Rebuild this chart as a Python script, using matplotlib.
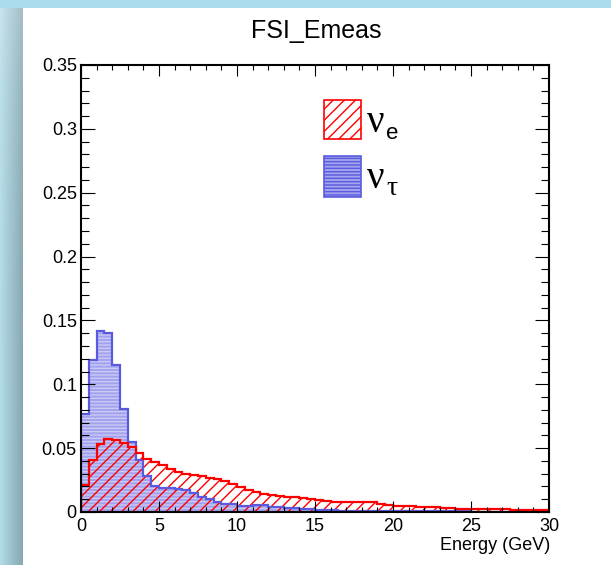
#!/usr/bin/env python

import numpy as np
import matplotlib.pyplot as plt
from matplotlib.patches import Rectangle
from matplotlib.ticker import MultipleLocator, FuncFormatter

plt.rcParams['font.family'] = ['Liberation Sans', 'DejaVu Sans']
plt.rcParams['hatch.linewidth'] = 1.0

# 0.5 GeV bins from 0 to 30 GeV
edges = np.linspace(0, 30, 61)

nu_e = [0.021, 0.041, 0.053, 0.057, 0.056, 0.054, 0.051, 0.046, 0.0415, 0.039,
        0.037, 0.034, 0.031, 0.030, 0.0287, 0.028, 0.027, 0.026, 0.024, 0.022,
        0.0195, 0.0175, 0.0157, 0.0143, 0.0135, 0.0122, 0.0117, 0.0117, 0.011, 0.0105,
        0.0092, 0.0090, 0.0080, 0.0077, 0.0077, 0.0078, 0.0080, 0.0079, 0.0062, 0.0058,
        0.0050, 0.0047, 0.0045, 0.0043, 0.0040, 0.0037, 0.0033, 0.0030, 0.0026, 0.0026,
        0.0025, 0.0025, 0.0024, 0.0024, 0.0020, 0.0018, 0.0017, 0.0016, 0.0015, 0.0015]

nu_tau = [0.077, 0.119, 0.142, 0.140, 0.115, 0.081, 0.055, 0.041, 0.028, 0.020,
          0.019, 0.019, 0.018, 0.017, 0.015, 0.012, 0.010, 0.008, 0.0065, 0.006,
          0.0045, 0.0048, 0.0057, 0.0057, 0.0042, 0.0040, 0.0033, 0.0033, 0.0022, 0.0020,
          0.0014, 0.0013, 0.0012, 0.0011, 0.0010, 0.0010, 0.0009, 0.0008, 0.0008, 0.0007,
          0.0006, 0.0006, 0.0006, 0.0005, 0.0005, 0.0005, 0.0004, 0.0004, 0.0004, 0.0004,
          0.0003, 0.0003, 0.0003, 0.0003, 0.0003, 0.0002, 0.0002, 0.0002, 0.0002, 0.0002]

red = '#ff0000'
blue_line = '#5a5ade'
blue_fill = '#a2a2ef'
blue_hatch = '#cacaf6'

fig = plt.figure(figsize=(6.11, 5.65), dpi=100)
fig.patch.set_facecolor('#aadcec')

# shaded left border of the canvas
bg = fig.add_axes([0, 0, 23/611, 1 - 8/565])
gx = np.linspace(0, 1, 23)[None, :, None]
gy = np.linspace(0, 1, 100)[:, None, None]
c_left = np.array([0.70, 0.86, 0.91])
c_right = np.array([0.53, 0.66, 0.70])
grad = c_left + (c_right - c_left) * gx
grad = grad + (1 - grad) * 0.25 * (1 - gy) ** 4
bg.imshow(np.clip(grad, 0, 1), aspect='auto', extent=[0, 1, 0, 1], origin='upper')
bg.axis('off')

fig.add_artist(Rectangle((23/611, 0), 1, 1 - 8/565, transform=fig.transFigure,
                         facecolor='white', edgecolor='none', zorder=0))

ax = fig.add_axes([81/611, 53/565, 468/611, 447/565])

ax.stairs(nu_tau, edges, fill=True, facecolor=blue_fill, edgecolor=blue_hatch,
          hatch='-----', linewidth=0)
ax.stairs(nu_e, edges, fill=True, facecolor='none', edgecolor=red,
          hatch='///', linewidth=0)
ax.stairs(nu_tau, edges, color=blue_line, linewidth=1.6)
ax.stairs(nu_e, edges, color=red, linewidth=1.6)

ax.set_xlim(0, 30)
ax.set_ylim(0, 0.35)
ax.xaxis.set_major_locator(MultipleLocator(5))
ax.xaxis.set_minor_locator(MultipleLocator(1))
ax.yaxis.set_major_locator(MultipleLocator(0.05))
ax.yaxis.set_minor_locator(MultipleLocator(0.01))
fmt = FuncFormatter(lambda v, p: f'{v:g}')
ax.xaxis.set_major_formatter(fmt)
ax.yaxis.set_major_formatter(fmt)
ax.tick_params(which='both', direction='in', top=True, right=True, width=0.8,
               labelsize=13)
ax.tick_params(axis='x', which='major', length=8, pad=4)
ax.tick_params(axis='x', which='minor', length=3.5)
ax.tick_params(axis='y', which='major', length=10, pad=3)
ax.tick_params(axis='y', which='minor', length=5.5)
for s in ax.spines.values():
    s.set_linewidth(1.5)

fig.text(316/611, 1 - 31/565, 'FSI_Emeas', ha='center', va='center', fontsize=18)
fig.text(550/611, 1 - 545/565, 'Energy (GeV)', ha='right', va='center', fontsize=13)

# legend
ax.add_patch(Rectangle((0.519, 0.834), 0.079, 0.088, transform=ax.transAxes,
                       facecolor='none', edgecolor=red, hatch='///', linewidth=1.2))
ax.add_patch(Rectangle((0.519, 0.705), 0.079, 0.091, transform=ax.transAxes,
                       facecolor=blue_fill, edgecolor=blue_line, hatch='-----',
                       linewidth=1.2))
serif = ['Liberation Serif', 'DejaVu Serif']
ax.text(0.610, 0.850, 'ν', transform=ax.transAxes, fontsize=28,
        family=serif, va='baseline', ha='left')
ax.text(0.652, 0.834, 'e', transform=ax.transAxes, fontsize=16,
        va='baseline', ha='left')
ax.text(0.610, 0.725, 'ν', transform=ax.transAxes, fontsize=28,
        family=serif, va='baseline', ha='left')
ax.text(0.653, 0.710, 'τ', transform=ax.transAxes, fontsize=20,
        family=serif, va='baseline', ha='left')

fig.savefig('out.png', dpi=100)
